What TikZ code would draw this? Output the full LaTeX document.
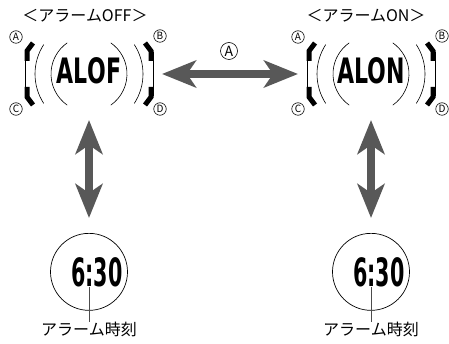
\documentclass[tikz,border=0pt]{standalone}
\usepackage{fontspec}
\setmainfont{Noto Sans CJK JP}
\newfontfamily\lcdfont{DejaVu Sans}
\usetikzlibrary{arrows.meta, positioning}

\definecolor{arrowgray}{RGB}{88,88,88}

\begin{document}
\begin{tikzpicture}[
    x=1pt, y=-1pt,
    title/.style={font=\fontsize{16}{18}\selectfont, inner sep=0pt},
    btn/.style={circle, draw, line width=0.6pt, minimum size=12.5pt, inner sep=0pt,
        font=\fontsize{10}{10}\selectfont},
    bigbtn/.style={btn, minimum size=17pt, font=\fontsize{14}{14}\selectfont},
    lcd/.style={font=\lcdfont\bfseries\fontsize{35}{35}\selectfont, inner sep=0pt},
    lcdtime/.style={font=\lcdfont\bfseries\fontsize{39}{39}\selectfont, inner sep=0pt},
    dial/.style={circle, draw, line width=0.7pt, minimum size=77pt, inner sep=0pt},
    caption/.style={font=\fontsize{16}{16}\selectfont, inner sep=0pt},
    thinline/.style={draw, line width=0.6pt},
    bezel/.style={draw, line width=5pt, line join=miter},
    leader/.style={draw, line width=0.8pt, black!70},
    bigarrow/.style={draw=arrowgray, line width=8.5pt,
        {Stealth[length=34pt, width=27pt, inset=9pt]}-{Stealth[length=34pt, width=27pt, inset=9pt]}},
]
    \useasboundingbox (0,0) rectangle (449,344);

    % Watch centres
    \coordinate (offc) at (89,74);
    \coordinate (onc) at (371,74);

    % Case and bezel, both sides of both watches
    \foreach \w in {offc, onc}
    \foreach \s in {1,-1} {
        \begin{scope}[shift={(\w)}, xscale=\s]
            \draw[thinline] (-64,-22) -- (-64,22);
            \draw[bezel] (-56,-31) -- (-62,-23) -- (-62,-13);
            \draw[bezel] (-56,31) -- (-62,23) -- (-62,13);
            \draw[thinline] (147:54) arc[start angle=147, end angle=213, radius=54];
            \draw[thinline] (125:38) arc[start angle=125, end angle=235, radius=38];
        \end{scope}
    }

    % Titles
    \node[title] (offtitle) at (85,16) {＜アラームOFF＞};
    \node[title] (ontitle) at (366,16) {＜アラームON＞};

    % Displays
    \node[lcd] (offlcd) at ([yshift=3pt]offc) {\scalebox{0.63}[1]{ALOF}};
    \node[lcd] (onlcd) at ([yshift=3pt]onc) {\scalebox{0.63}[1]{ALON}};

    % Buttons
    \foreach \w in {off, on} {
        \node[btn] (\w a) at ([shift={(-73,-37)}]\w c) {A};
        \node[btn] (\w b) at ([shift={(71,-38)}]\w c) {B};
        \node[btn] (\w cc) at ([shift={(-73,35)}]\w c) {C};
        \node[btn] (\w d) at ([shift={(71,35)}]\w c) {D};
    }

    % Alarm time dials
    \node[dial, below=159pt of offc] (offdial) {};
    \node[dial, below=159pt of onc] (ondial) {};
    \node[lcdtime] (offtime) at ([xshift=8pt]offdial.center) {\scalebox{0.53}[1]{6:30}};
    \node[lcdtime] (ontime) at ([xshift=8pt]ondial.center) {\scalebox{0.53}[1]{6:30}};
    \node[caption, below=11pt of offdial] (offcap) {アラーム時刻};
    \node[caption, below=11pt of ondial] (oncap) {アラーム時刻};
    \draw[leader] ([yshift=-15pt]offdial.center) -- (offcap.north);
    \draw[leader] ([yshift=-15pt]ondial.center) -- (oncap.north);

    % Mode change with A
    \draw[bigarrow] ([xshift=73pt]offc) -- ([xshift=-73pt]onc);
    \node[bigbtn] (keya) at (229,51) {A};

    % Setting the time
    \draw[bigarrow] ([yshift=-46pt]offc) -- ([yshift=15pt]offdial.north);
    \draw[bigarrow] ([yshift=-46pt]onc) -- ([yshift=15pt]ondial.north);
\end{tikzpicture}
\end{document}
